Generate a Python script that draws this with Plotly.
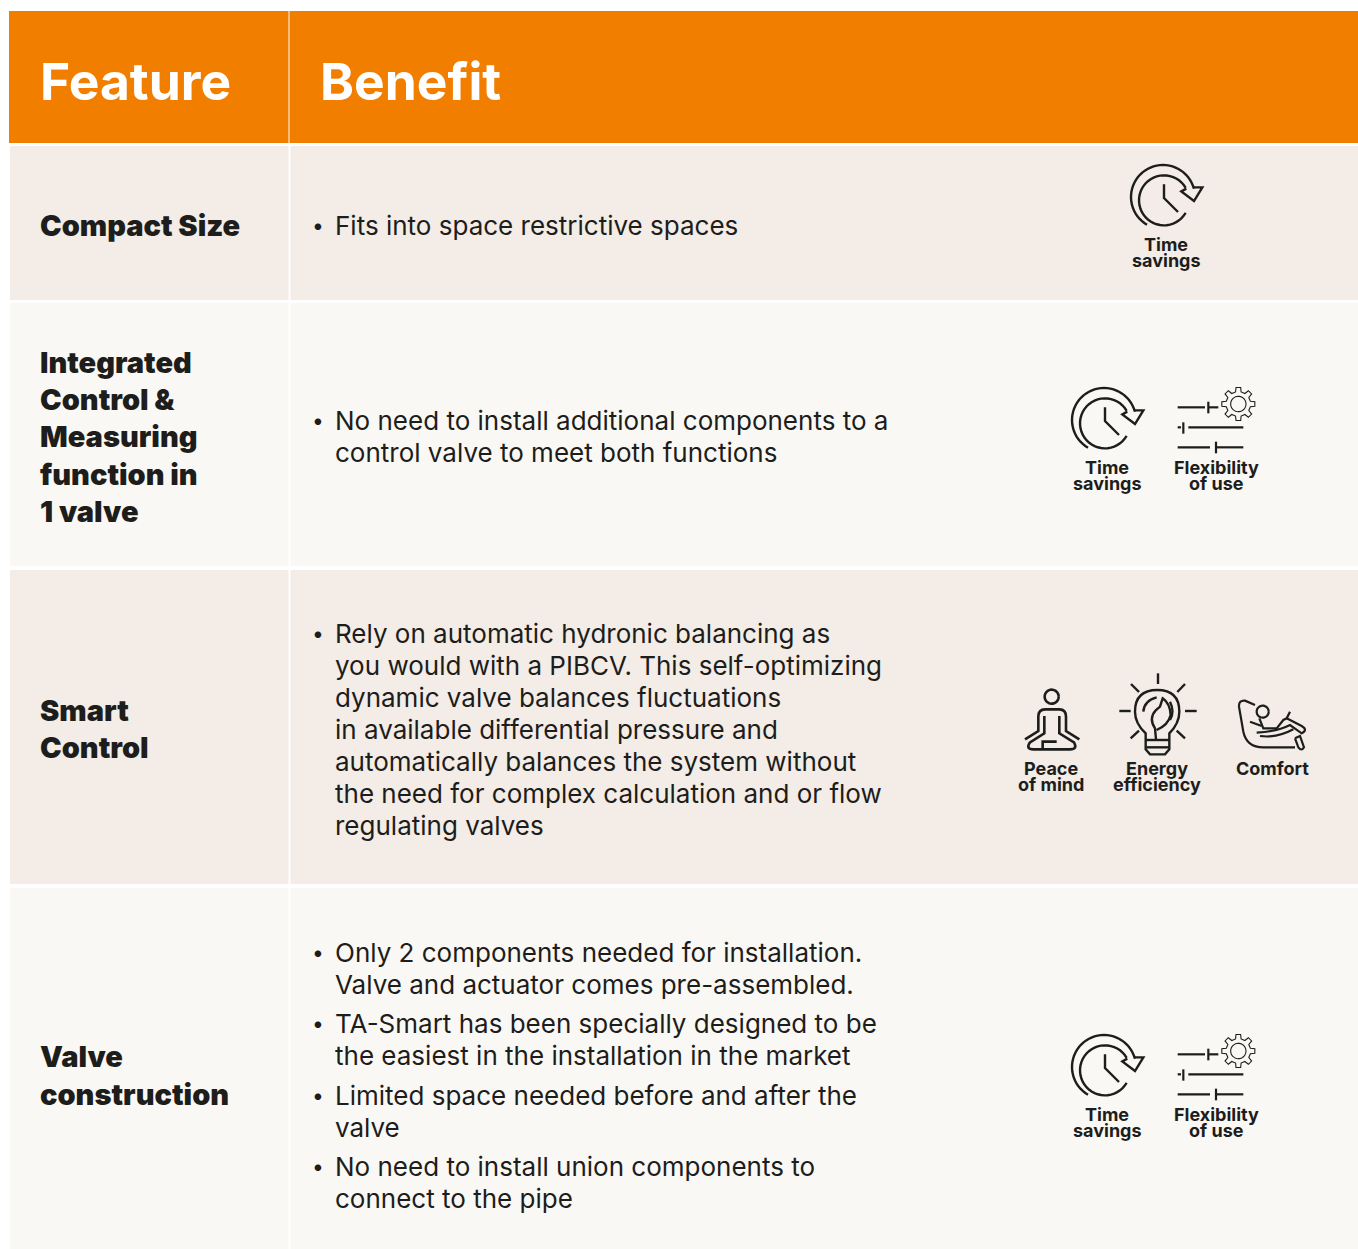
import re
import numpy as np
import plotly.graph_objects as go

W, H = 1358, 1249
HEADERS = ["Feature", "Benefit"]
HEADER_X = [38, 318]
FEATURE_LINES = [["Compact Size"],
                 ["Integrated", "Control &", "Measuring", "function in", "1 valve"],
                 ["Smart", "Control"],
                 ["Valve", "construction"]]
FEATURE_Y = [[225], [362, 399, 436, 474, 511], [710, 747], [1056, 1094]]
BENEFITS = [
    [["Fits into space restrictive spaces"]],
    [["No need to install additional components to a", "control valve to meet both functions"]],
    [["Rely on automatic hydronic balancing as", "you would with a PIBCV. This self-optimizing",
      "dynamic valve balances fluctuations", "in available differential pressure and",
      "automatically balances the system without", "the need for complex calculation and or flow",
      "regulating valves"]],
    [["Only 2 components needed for installation.", "Valve and actuator comes pre-assembled."],
     ["TA-Smart has been specially designed to be", "the easiest in the installation in the market"],
     ["Limited space needed before and after the", "valve"],
     ["No need to install union components to", "connect to the pipe"]],
]
BENEFIT_Y = [[[225]], [[420, 452]], [[633, 665, 697, 729, 761, 793, 825]],
             [[952, 984], [1023, 1055], [1095, 1127], [1166, 1198]]]
ROW_TOPS = [146, 303, 570, 888]
ROW_BOTTOMS = [300, 566, 884, 1249]
ROW_COLOURS = ["#F3ECE7", "#FAF8F4", "#F3ECE7", "#FAF8F4"]
ORANGE = "#F27E00"
INK = "#1D1D1B"
BODY_FONT = "Inter"
ICON_SETS = [[("clock", "Time|savings", 1166, 245)],
             [("clock", "Time|savings", 1107, 468), ("flex", "Flexibility|of use", 1216, 468)],
             [("person", "Peace|of mind", 1051, 769), ("bulb", "Energy|efficiency", 1157, 769),
              ("chair", "Comfort", 1272, 769)],
             [("clock", "Time|savings", 1107, 1115), ("flex", "Flexibility|of use", 1216, 1115)]]


def arc(cx, cy, r, a0, a1, n=40):
    t = np.radians(np.linspace(a0, a1, n))
    pts = [f"{cx + r * np.cos(a):.1f} {cy + r * np.sin(a):.1f}" for a in t]
    return "M" + " L".join(pts)


def gear(cx, cy, r0, r1, teeth=8):
    pts = []
    for i in range(teeth):
        b = 360 / teeth * i
        for da, r in [(-13, r0), (-8, r1), (8, r1), (13, r0)]:
            a = np.radians(b + da)
            pts.append(f"{cx + r * np.cos(a):.1f} {cy + r * np.sin(a):.1f}")
    return "M" + " L".join(pts) + " Z"


ICONS = {
    "clock": dict(ox=1107, oy=468, ref=(1050, 375), w=2.4, paths=[
        arc(165, 145, 75, 30, 330),
        arc(162, 135, 96, 120, 345),
        "M165 97 L165 138 L207 180",
        "M252 106 L280 106 L255 147 L217 118 L232 110",
    ]),
    "flex": dict(ox=1216, oy=468, ref=(1050, 375), w=2.2, thin=1.1, paths=[
        "M383 97 L465 97", "M475 80 L475 115", "M475 97 L505 97",
        "M383 157 L393 157", "M400 142 L400 176", "M415 157 L580 157",
        "M383 217 L480 217", "M498 200 L498 235", "M498 217 L580 217",
    ], thin_paths=[gear(565, 87, 37, 50), arc(565, 87, 23, 0, 360)]),
    "person": dict(ox=1051, oy=769, ref=(1000, 660), w=2.6, paths=[
        arc(155, 110, 21, 0, 360),
        "M75 238 L115 213 L115 170 Q115 148 135 148 L178 148 Q198 148 198 170 L198 213 L238 238",
        "M133 168 L133 220 L90 247 Q76 268 100 268 L210 268 Q234 268 222 247 L178 220 L178 168",
        "M128 265 L128 245 L170 245",
    ]),
    "bulb": dict(ox=1157, oy=769, ref=(1000, 660), w=2.4, paths=[
        "M474 40 L474 72", "M393 72 L417 96", "M555 72 L532 96", "M358 153 L392 153",
        "M555 153 L590 153", "M392 235 L417 212", "M555 235 L530 212",
        "M437 240 L437 220 Q405 190 405 155 Q405 90 472 90 Q538 90 538 155 Q538 190 508 220 L508 240",
        "M437 240 L508 240", "M437 262 L508 262",
        "M437 240 L437 268 L450 283 L495 283 L508 268 L508 240",
        "M430 155 Q432 122 470 112", "M510 125 Q525 155 510 180",
        "M468 238 L465 205 Q445 175 468 150 L480 140 L488 115 Q510 130 512 165 Q505 195 470 210",
    ]),
    "chair": dict(ox=1272, oy=769, ref=(1000, 660), w=2.2, paths=[
        "M765 135 L735 122 Q716 120 717 140 L730 215 Q740 262 790 262 L885 262",
        arc(788, 155, 18, 0, 360),
        "M778 175 L790 205 L830 205 L850 180 L860 175 L870 155",
        "M750 185 L785 198", "M770 218 Q830 215 870 195 L905 220 Q925 210 905 198 L860 175",
        "M780 228 Q830 235 880 208", "M885 235 L900 228 L912 262 Q905 275 895 262 L885 235",
    ]),
}


def place(path, icon, cx, ty):
    rx, ry = icon["ref"]
    nums = iter(range(10**6))

    def rep(m):
        v = float(m.group(0))
        if next(nums) % 2 == 0:
            return f"{(v / 3 + rx) - icon['ox'] + cx:.2f}"
        return f"{(v / 3 + ry) - icon['oy'] + ty:.2f}"
    return re.sub(r"-?\d+\.?\d*", rep, path)


shapes = [dict(type="rect", x0=9, x1=W, y0=11, y1=143, fillcolor=ORANGE, line_width=0, layer="below")]
shapes.append(dict(type="line", x0=289, x1=289, y0=11, y1=143, line=dict(color="#FBE5CF", width=1.2)))
for top, bot, col in zip(ROW_TOPS, ROW_BOTTOMS, ROW_COLOURS):
    shapes.append(dict(type="rect", x0=10, x1=288.5, y0=top, y1=bot, fillcolor=col, line_width=0, layer="below"))
    shapes.append(dict(type="rect", x0=290.5, x1=W, y0=top, y1=bot, fillcolor=col, line_width=0, layer="below"))

ann = []


def text(x, y, s, size, color=INK, family=BODY_FONT, weight=400, anchor="left"):
    ann.append(dict(x=x, y=y, text=s, showarrow=False, xanchor=anchor, yanchor="middle", align=anchor,
                    font=dict(size=size, color=color, family=family, weight=weight)))


for x, s in zip(HEADER_X, HEADERS):
    text(x, 80.5, s, 51.5, "#FFFFFF", weight=700)
for lines, ys in zip(FEATURE_LINES, FEATURE_Y):
    for s, y in zip(lines, ys):
        text(38, y, s, 29, weight=900)
for row, rys in zip(BENEFITS, BENEFIT_Y):
    for lines, ys in zip(row, rys):
        text(309.5, ys[0], "•", 21)
        for s, y in zip(lines, ys):
            text(333, y, s, 26)
for row in ICON_SETS:
    for kind, label, cx, ty in row:
        icon = ICONS[kind]
        for p in icon["paths"]:
            shapes.append(dict(type="path", path=place(p, icon, cx, ty),
                               line=dict(color=INK, width=icon["w"])))
        for p in icon.get("thin_paths", []):
            shapes.append(dict(type="path", path=place(p, icon, cx, ty),
                               line=dict(color=INK, width=icon["thin"])))
        for i, s in enumerate(label.split("|")):
            text(cx, ty - 1 + i * 16, s, 18, weight=700, anchor="center")

fig = go.Figure()
fig.update_layout(width=W, height=H, margin=dict(l=0, r=0, t=0, b=0), autosize=False,
                  paper_bgcolor="white", plot_bgcolor="white", shapes=shapes, annotations=ann,
                  showlegend=False,
                  xaxis=dict(range=[0, W], visible=False, fixedrange=True),
                  yaxis=dict(range=[H, 0], visible=False, fixedrange=True))
fig.write_html("out.html", config=dict(displayModeBar=False),
               post_script="document.body.style.margin='0';document.documentElement.style.overflow='hidden';")
